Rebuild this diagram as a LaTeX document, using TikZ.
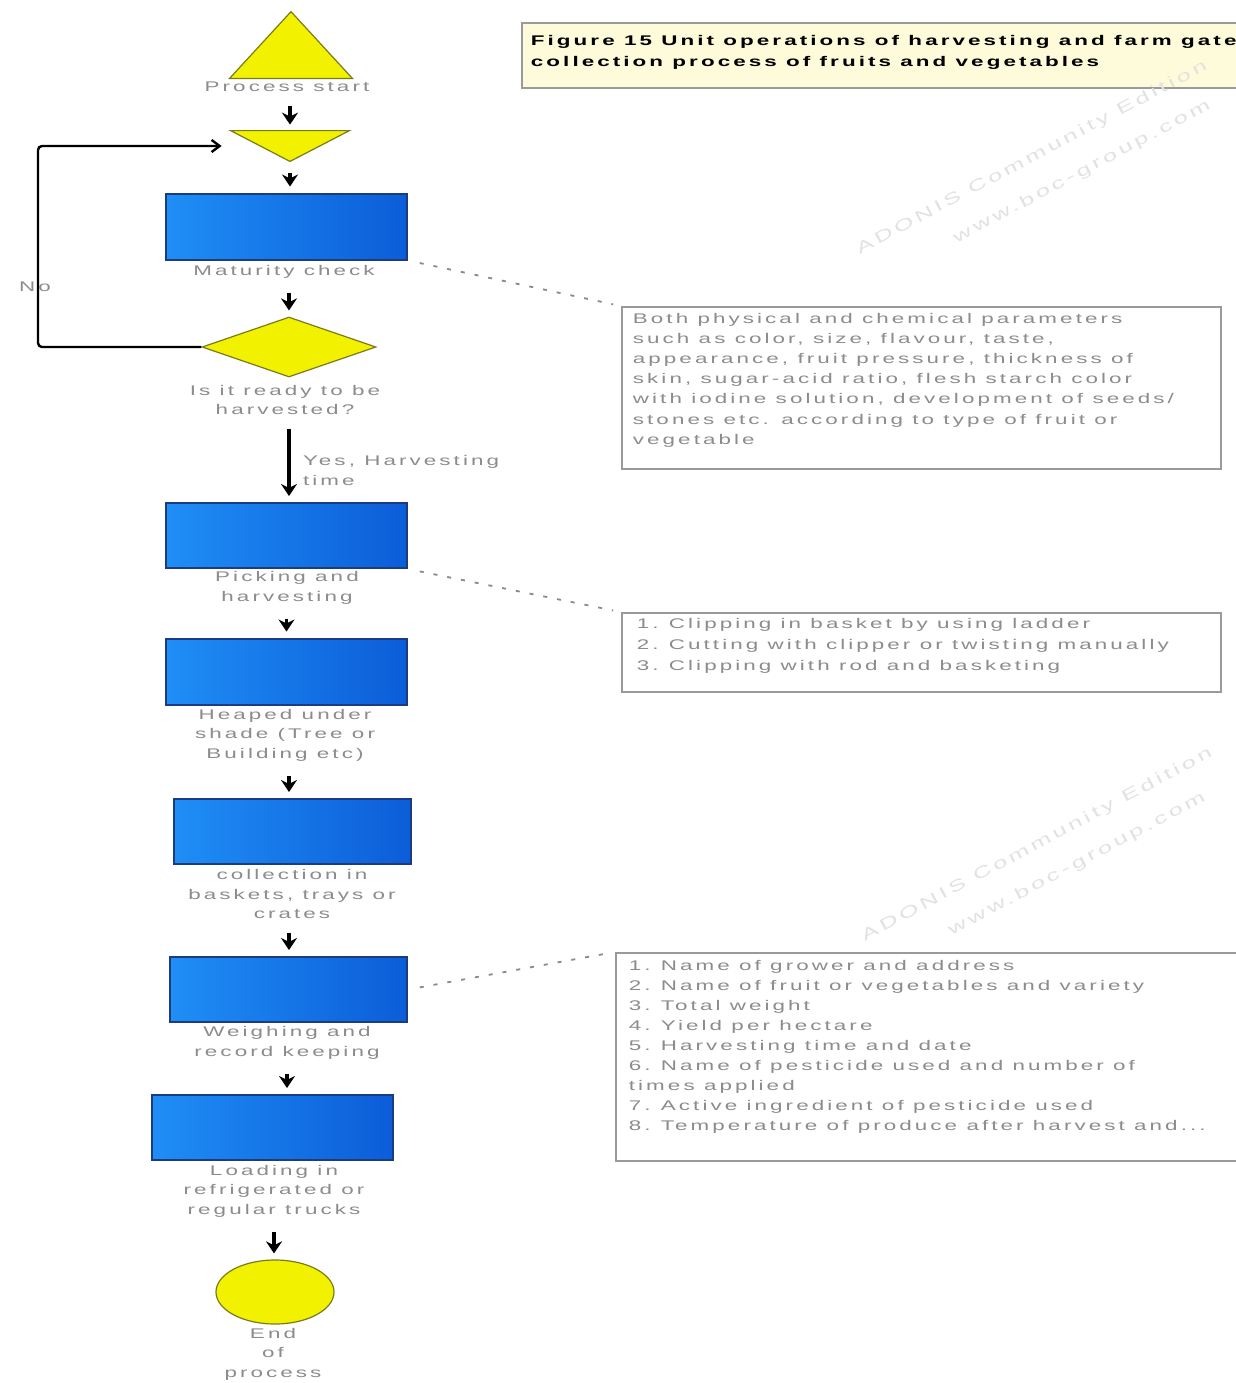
\documentclass[tikz,border=0pt]{standalone}
\usepackage{fontspec}
\setmainfont{Liberation Sans}
\newfontfamily\capfont[FakeStretch=1.6,LetterSpace=22]{Liberation Sans}
\usetikzlibrary{shapes.geometric,arrows.meta}

\definecolor{capgray}{HTML}{8C8C8C}
\definecolor{boxL}{HTML}{1F8EF5}
\definecolor{boxR}{HTML}{0C5DD8}
\definecolor{boxedge}{HTML}{1B3C80}
\definecolor{yfill}{HTML}{F2F200}
\definecolor{yedge}{HTML}{7A7A1E}
\definecolor{notegray}{HTML}{9A9A9A}
\definecolor{titlefill}{HTML}{FDFBDA}
\definecolor{linkgray}{HTML}{8A8A8A}
\definecolor{wmark}{HTML}{E2E2E2}

\begin{document}
\begin{tikzpicture}[x=0.5pt,y=-0.5pt,
  capt/.style={text=capgray,font=\capfont\fontsize{7pt}{9.8pt}\selectfont,align=center,inner sep=1pt},
  stepbox/.style={draw=boxedge,line width=1pt,left color=boxL,right color=boxR,
    minimum width=120.5pt,minimum height=33pt,inner sep=0pt},
  ysh/.style={draw=yedge,fill=yfill,line width=0.6pt},
  ghost/.style={inner sep=0pt},
  flowarr/.style={-{Stealth[length=6pt,width=8pt]},line width=1.8pt,shorten <=6pt,shorten >=3pt},
  looparr/.style={-{Straight Barb[length=4pt,width=6pt]},line width=1.2pt,rounded corners=2pt,shorten >=4.5pt},
  notebox/.style={draw=notegray,line width=0.9pt,fill=white,anchor=north west},
  dotlink/.style={draw=linkgray,line width=0.9pt,dash pattern=on 2pt off 5pt,shorten <=6pt,shorten >=4pt},
  wm/.style={text=wmark,font=\capfont\fontsize{8pt}{10pt}\selectfont,rotate=28,inner sep=0pt}
]
\path[use as bounding box] (0,0) rectangle (1236,1383);
\clip (0,0) rectangle (1236,1383);
\fill[white] (0,0) rectangle (1236,1383);

% title
\node[notebox,fill=titlefill,inner xsep=4.5pt,inner ysep=6pt] (title) at (521,22)
  {\parbox[c][20.5pt][t]{420pt}{\capfont\bfseries\fontsize{7pt}{10.5pt}\selectfont\raggedright
   Figure 15 Unit operations of harvesting and farm gate\\
   collection process of fruits and vegetables}};

% watermark
\node[wm] (wm1) at (1032,158) {ADONIS Community Edition};
\node[wm] (wm2) at (1082,172) {www.boc-group.com};
\node[wm] (wm3) at (1037,845) {ADONIS Community Edition};
\node[wm] (wm4) at (1077,864) {www.boc-group.com};

% start and merge triangles
\node[ghost,minimum width=61pt,minimum height=33pt] (start) at (291,45) {};
\draw[ysh] (start.north) -- (start.south east) -- (start.south west) -- cycle;
\node[capt] (startcap) at (287,87) {Process start};

\node[ghost,minimum width=59pt,minimum height=15pt] (merge) at (290,146) {};
\draw[ysh] (merge.north west) -- (merge.north east) -- (merge.south) -- cycle;

% process steps
\node[stepbox] (box1) at (286.5,226.5) {};
\node[capt] (cap1) at (284,272) {Maturity check};

\node[diamond,ysh,minimum width=87pt,minimum height=30pt,inner sep=0pt] (dia) at (289,347) {};
\node[capt] (diacap) at (285,400) {Is it ready to be\\harvested?};

\node[stepbox,minimum height=32.5pt] (box2) at (286.5,535.5) {};
\node[capt] (cap2) at (287,588) {Picking and\\harvesting};

\node[stepbox] (box3) at (286.5,671.5) {};
\node[capt] (cap3) at (285,735) {Heaped under\\shade (Tree or\\Building etc)};

\node[stepbox,minimum width=118.5pt,minimum height=32.5pt] (box4) at (292.5,831.5) {};
\node[capt] (cap4) at (292,894) {collection in\\baskets, trays or\\crates};

\node[stepbox,minimum width=118.5pt,minimum height=32.5pt] (box5) at (288.5,989.5) {};
\node[capt] (cap5) at (287,1043) {Weighing and\\record keeping};

\node[stepbox,minimum height=32.5pt] (box6) at (272.5,1127.5) {};
\node[capt] (cap6) at (274,1191) {Loading in\\refrigerated or\\regular trucks};

\node[ellipse,ysh,minimum width=59pt,minimum height=32pt,inner sep=0pt] (end) at (275,1292) {};
\node[capt] (endcap) at (273,1354) {End\\of\\process};

% flow arrows
\draw[flowarr] (startcap.south -| merge.north) -- (merge.north);
\draw[flowarr] (merge.south) -- (merge.south |- box1.north);
\draw[flowarr] (cap1.south -| dia.north) -- (dia.north);
\draw[flowarr,line width=2pt] (diacap.south -| dia.south) -- (dia.south |- box2.north)
  node[capt,pos=0.63,anchor=west,align=left,xshift=5pt] (yes) {Yes, Harvesting\\time};
\draw[flowarr] (cap2.south -| box3.north) -- (box3.north);
\draw[flowarr] (cap3.south -| dia.south) -- (dia.south |- box4.north);
\draw[flowarr] (cap4.south -| dia.south) -- (dia.south |- box5.north);
\draw[flowarr] (cap5.south) -- (cap5.south |- box6.north);
\draw[flowarr] (cap6.south) -- (cap6.south |- end.north);

% loop back when not ready
\coordinate (nocol) at (38,0);
\draw[looparr] (dia.west) -- (dia.west -| nocol) -- (merge.west -| nocol)
  node[capt,pos=0.3,xshift=-1.5pt] (no) {No} -- (merge.west);

% notes
\node[notebox,inner xsep=5.5pt,inner ysep=3pt] (note1) at (621,306)
  {\parbox[c][75pt][t]{288.5pt}{\capfont\fontsize{7pt}{10.1pt}\selectfont\color{capgray}\raggedright
   Both physical and chemical parameters\\
   such as color, size, flavour, taste,\\
   appearance, fruit pressure, thickness of\\
   skin, sugar-acid ratio, flesh starch color\\
   with iodine solution, development of seeds/\\
   stones etc. according to type of fruit or\\
   vegetable}};

\node[notebox,inner xsep=7.5pt,inner ysep=2.5pt] (note2) at (621,612)
  {\parbox[c][34.5pt][t]{284.5pt}{\capfont\fontsize{7pt}{10.5pt}\selectfont\color{capgray}\raggedright
   \makebox[16pt][l]{1.}Clipping in basket by using ladder\\
   \makebox[16pt][l]{2.}Cutting with clipper or twisting manually\\
   \makebox[16pt][l]{3.}Clipping with rod and basketing}};

\node[notebox,inner xsep=6.5pt,inner ysep=3.5pt] (note3) at (615,952)
  {\parbox[c][97pt][t]{307pt}{\capfont\fontsize{7pt}{10.05pt}\selectfont\color{capgray}\raggedright
   \makebox[16pt][l]{1.}Name of grower and address\\
   \makebox[16pt][l]{2.}Name of fruit or vegetables and variety\\
   \makebox[16pt][l]{3.}Total weight\\
   \makebox[16pt][l]{4.}Yield per hectare\\
   \makebox[16pt][l]{5.}Harvesting time and date\\
   \makebox[16pt][l]{6.}Name of pesticide used and number of\\
   times applied\\
   \makebox[16pt][l]{7.}Active ingredient of pesticide used\\
   \makebox[16pt][l]{8.}Temperature of produce after harvest and...}};

% note links
\draw[dotlink] (box1.south east) -- (note1.north west);
\draw[dotlink] (box2.south east) -- (note2.north west);
\draw[dotlink] (box5.east) -- (note3.north west);
\end{tikzpicture}
\end{document}
